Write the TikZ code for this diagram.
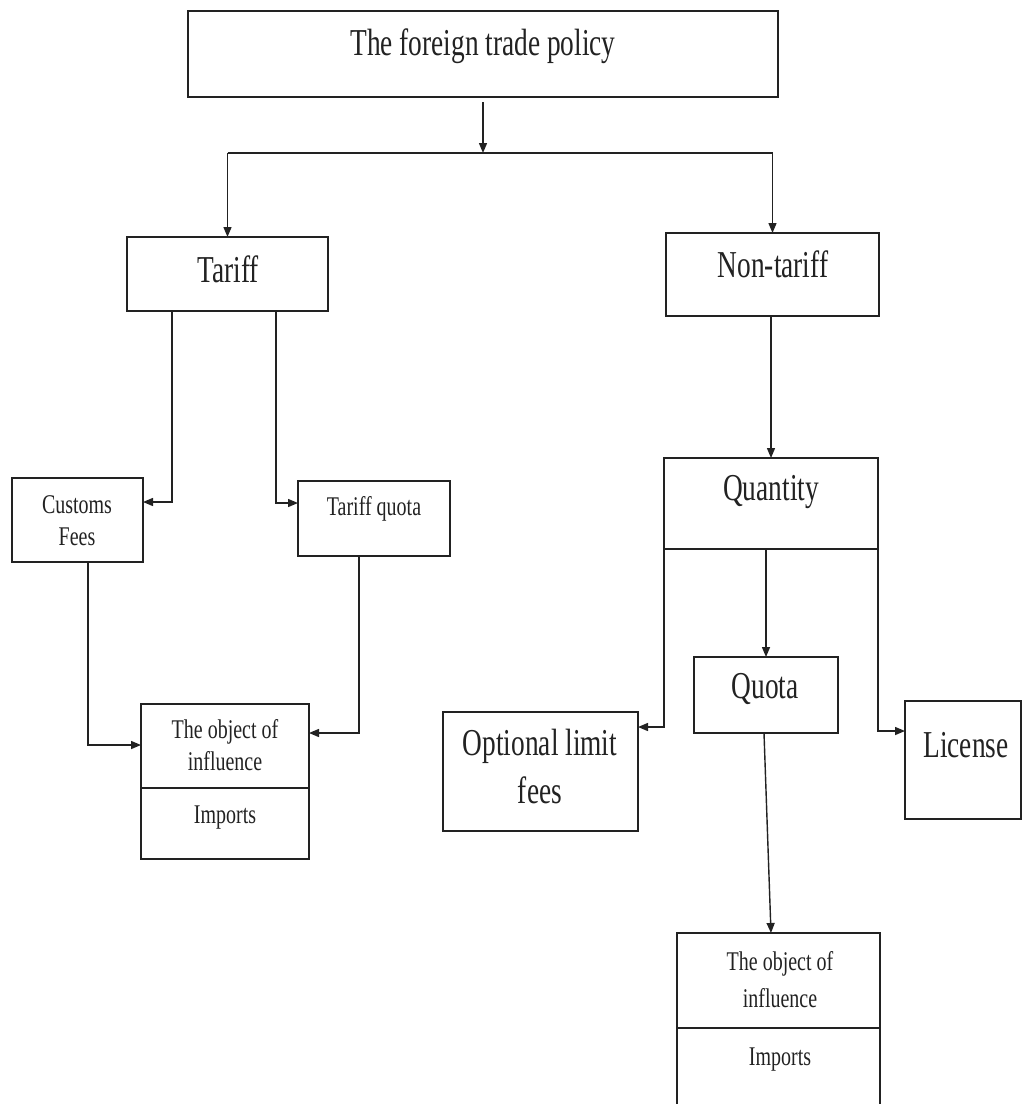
\documentclass[tikz,border=0pt]{standalone}
\usepackage{fontspec}
\setmainfont{Liberation Serif}
\usepackage{graphicx}
\usetikzlibrary{arrows.meta,calc}
\definecolor{ink}{HTML}{222222}
\newcommand\hsq[1]{\scalebox{0.72}[1]{#1}}
\newcommand\lsq[1]{\scalebox{0.74}[1]{#1}}
\begin{document}
\begin{tikzpicture}[x=1pt,y=-1pt,
  box/.style={draw=ink, line width=1.8pt, inner sep=0pt, outer sep=0pt},
  conn/.style={draw=ink, line width=1.4pt},
  arr/.style={conn, -{Triangle[length=10pt,width=8pt]}},
  big/.style={anchor=base, inner sep=0pt, font=\fontsize{38}{40}\selectfont, text=ink},
  small/.style={anchor=base, inner sep=0pt, font=\fontsize{27}{30}\selectfont, text=ink}]
\useasboundingbox (0,0) rectangle (1024,1104);
\clip (0,0) rectangle (1024,1104);
\fill[white] (0,0) rectangle (1024,1104);
% boxes
\node[box, minimum width=590pt, minimum height=86pt] (title) at (483,54) {};
\node[box, minimum width=201pt, minimum height=74pt] (tariff) at (227.5,274) {};
\node[box, minimum width=213pt, minimum height=83pt] (nontariff) at (772.5,274.5) {};
\node[box, minimum width=131pt, minimum height=84pt] (customs) at (77.5,520) {};
\node[box, minimum width=152pt, minimum height=75pt] (tquota) at (374,518.5) {};
\node[box, minimum width=168pt, minimum height=155pt] (obj1) at (225,781.5) {};
\node[box, minimum width=214pt, minimum height=91pt] (quantity) at (771,503.5) {};
\node[box, minimum width=144pt, minimum height=76pt] (quota) at (766,695) {};
\node[box, minimum width=195pt, minimum height=119pt] (optional) at (540.5,771.5) {};
\node[box, minimum width=116pt, minimum height=118pt] (license) at (963,760) {};
\node[box, minimum width=203pt, minimum height=177pt] (obj2) at (778.5,1021.5) {};
% dividers
\draw[box] ([yshift=-6.5pt]obj1.west) -- ([yshift=-6.5pt]obj1.east);
\draw[box] ([yshift=-6.5pt]obj2.west) -- ([yshift=-6.5pt]obj2.east);
% texts
\node[big] (t-title) at (483,55) {\hsq{The foreign trade policy}};
\node[big] (t-tariff) at (228,282) {\hsq{Tariff}};
\node[big] (t-nontariff) at (773,277) {\hsq{Non-tariff}};
\node[small] (t-customs1) at (77,513) {\lsq{Customs}};
\node[small] (t-customs2) at (77,545) {\lsq{Fees}};
\node[small] (t-tquota) at (374,515) {\lsq{Tariff quota}};
\node[small] (t-obj1a) at (225,738) {\lsq{The object of}};
\node[small] (t-obj1b) at (225,770) {\lsq{influence}};
\node[small] (t-obj1c) at (225,823) {\lsq{Imports}};
\node[big] (t-quantity) at (771,500) {\hsq{Quantity}};
\node[big] (t-quota) at (765,698) {\hsq{Quota}};
\node[big] (t-opt1) at (540,755) {\hsq{Optional limit}};
\node[big] (t-opt2) at (540,803) {\hsq{fees}};
\node[big] (t-license) at (966,757) {\hsq{License}};
\node[small] (t-obj2a) at (780,970) {\lsq{The object of}};
\node[small] (t-obj2b) at (780,1007) {\lsq{influence}};
\node[small] (t-obj2c) at (780,1065) {\lsq{Imports}};
% connectors
\coordinate (split) at (483,153);
\draw[arr] ([yshift=-5pt]title.south) -- (split);
\draw[conn] (tariff.north |- split) -- (nontariff.north |- split);
\draw[arr] (tariff.north |- split) -- (tariff.north);
\draw[arr] (nontariff.north |- split) -- (nontariff.north);
\draw[arr] ([xshift=-55.5pt]tariff.south) |- ([yshift=18pt]customs.east);
\draw[arr] ([xshift=48.5pt]tariff.south) |- ([yshift=15.5pt]tquota.west);
\draw[arr] ([xshift=10.5pt]customs.south) |- ([yshift=36.5pt]obj1.west);
\draw[arr] ([xshift=-15pt]tquota.south) |- ([yshift=48.5pt]obj1.east);
\draw[arr] (nontariff.south -| quantity.north) -- (quantity.north);
\draw[arr] (quantity.south west) |- ([yshift=44.5pt]optional.east);
\draw[arr] (quantity.south -| quota.north) -- (quota.north);
\draw[arr] (quantity.south east) |- ([yshift=29pt]license.west);
\draw[arr] ([xshift=-2pt]quota.south) -- ([xshift=-7.5pt]obj2.north);
\end{tikzpicture}
\end{document}
